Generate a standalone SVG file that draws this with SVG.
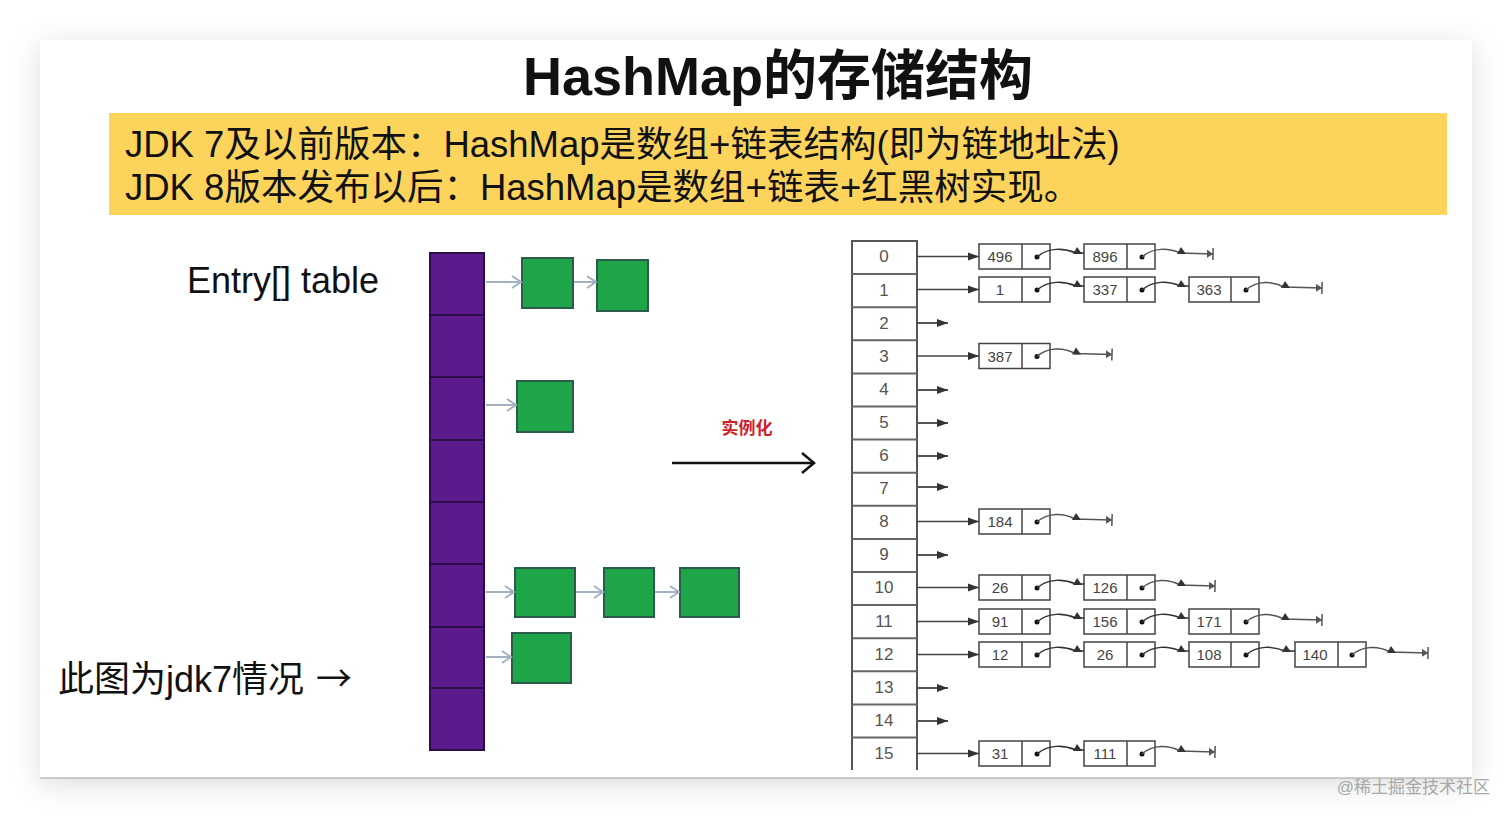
<svg xmlns="http://www.w3.org/2000/svg" width="1512" height="819" viewBox="0 0 1512 819">
<defs>
<filter id="sh" x="-10%" y="-10%" width="120%" height="125%">
<feDropShadow dx="0" dy="6" stdDeviation="14" flood-color="#000" flood-opacity="0.14"/>
</filter>
<marker id="chev" markerWidth="14" markerHeight="14" refX="12" refY="7" orient="auto" markerUnits="userSpaceOnUse">
<path d="M3,1 L12,7 L3,13" fill="none" stroke="#a3b2c0" stroke-width="2"/>
</marker>
<marker id="bigchev" markerWidth="20" markerHeight="24" refX="18" refY="12" orient="auto" markerUnits="userSpaceOnUse">
<path d="M6,2 L18,12 L6,22" fill="none" stroke="#111" stroke-width="2.5"/>
</marker>
<marker id="tri" markerWidth="12" markerHeight="10" refX="11" refY="5" orient="auto" markerUnits="userSpaceOnUse">
<path d="M0,1 L11,5 L0,9 Z" fill="#333"/>
</marker>
<marker id="endbar" markerWidth="8" markerHeight="16" refX="6" refY="8" orient="auto" markerUnits="userSpaceOnUse">
<path d="M0,4 L6,8 L0,12 Z" fill="#555"/>
<line x1="6" y1="2" x2="6" y2="14" stroke="#555" stroke-width="1.5"/>
</marker>
</defs>
<style>
.cjk{font-family:"Liberation Sans","Noto Sans CJK SC",sans-serif;}
.purp{fill:#5b1b8c;stroke:#2e0c4c;stroke-width:2;}
.grn{fill:#1ea548;stroke:#2b5c4b;stroke-width:2;}
.garr{stroke:#a3b2c0;stroke-width:2;fill:none;marker-end:url(#chev);}
.tbl{stroke:#555;stroke-width:2;fill:#fff;}
.sep{stroke:#666;stroke-width:2;}
.idx{font-family:"Liberation Sans",sans-serif;font-size:17px;fill:#555;text-anchor:middle;}
.nbox{fill:#fff;stroke:#444;stroke-width:1.5;}
.nval{font-family:"Liberation Sans",sans-serif;font-size:15px;fill:#444;text-anchor:middle;}
.dot{fill:#111;}
.lnk{stroke:#333;stroke-width:1.5;fill:none;}
.tip{fill:#333;}
.first{stroke:#444;stroke-width:1.5;fill:none;marker-end:url(#tri);}
.end{stroke:#555;stroke-width:1.5;fill:none;marker-end:url(#endbar);}
.emp{stroke:#555;stroke-width:2;fill:none;marker-end:url(#tri);}
</style>
<rect width="1512" height="819" fill="#ffffff"/>
<rect x="40" y="40" width="1432" height="738" fill="#fff" filter="url(#sh)"/>
<line x1="40" y1="778" x2="1472" y2="778" stroke="#bbb" stroke-width="1.5"/>

<g id="title">
<text x="778" y="95" class="cjk" font-size="54" font-weight="bold" text-anchor="middle" fill="#111">HashMap的存储结构</text>
</g>

<g id="banner">
<rect x="109" y="113" width="1338" height="102" fill="#fcd45c"/>
<text x="125" y="157" class="cjk" font-size="36.5" fill="#111">JDK 7及以前版本：HashMap是数组+链表结构(即为链地址法)</text>
<text x="125" y="200" class="cjk" font-size="36.5" fill="#111">JDK 8版本发布以后：HashMap是数组+链表+红黑树实现。</text>
</g>

<g id="entry-label">
<text x="187" y="293" class="cjk" font-size="36" fill="#111">Entry[] table</text>
</g>
<g id="jdk7-label">
<text x="58" y="692" class="cjk" font-size="36" fill="#111">此图为jdk7情况 <tspan font-family="'Noto Sans CJK SC',sans-serif" x="316">→</tspan></text>
</g>

<g id="entry-table">
<rect x="430" y="253" width="54" height="497" class="purp"/>
<line x1="430" y1="315" x2="484" y2="315" stroke="#2e0c4c" stroke-width="2"/>
<line x1="430" y1="377" x2="484" y2="377" stroke="#2e0c4c" stroke-width="2"/>
<line x1="430" y1="440" x2="484" y2="440" stroke="#2e0c4c" stroke-width="2"/>
<line x1="430" y1="502" x2="484" y2="502" stroke="#2e0c4c" stroke-width="2"/>
<line x1="430" y1="564" x2="484" y2="564" stroke="#2e0c4c" stroke-width="2"/>
<line x1="430" y1="627" x2="484" y2="627" stroke="#2e0c4c" stroke-width="2"/>
<line x1="430" y1="688" x2="484" y2="688" stroke="#2e0c4c" stroke-width="2"/>
</g>

<g id="green-nodes">
<rect x="522" y="258" width="51" height="50" class="grn"/>
<rect x="597" y="260" width="51" height="51" class="grn"/>
<rect x="517" y="381" width="56" height="51" class="grn"/>
<rect x="515" y="568" width="60" height="49" class="grn"/>
<rect x="604" y="568" width="50" height="49" class="grn"/>
<rect x="680" y="568" width="59" height="49" class="grn"/>
<rect x="512" y="633" width="59" height="50" class="grn"/>
</g>

<g id="left-connectors">
<line x1="486" y1="282" x2="521" y2="282" class="garr"/>
<line x1="574" y1="282" x2="596" y2="282" class="garr"/>
<line x1="486" y1="405" x2="516" y2="405" class="garr"/>
<line x1="486" y1="592" x2="514" y2="592" class="garr"/>
<line x1="576" y1="592" x2="603" y2="592" class="garr"/>
<line x1="655" y1="592" x2="679" y2="592" class="garr"/>
<line x1="486" y1="657" x2="511" y2="657" class="garr"/>
</g>

<g id="instantiate">
<text x="747" y="434" class="cjk" font-size="17" font-weight="bold" fill="#d0202a" text-anchor="middle">实例化</text>
<line x1="672" y1="463" x2="814" y2="463" stroke="#111" stroke-width="2.5" marker-end="url(#bigchev)"/>
</g>

<g id="bucket-table">
<path d="M852,770 L852,241 L917,241 L917,770" class="tbl"/>
<line x1="852" y1="274.1" x2="917" y2="274.1" class="sep"/>
<line x1="852" y1="307.2" x2="917" y2="307.2" class="sep"/>
<line x1="852" y1="340.3" x2="917" y2="340.3" class="sep"/>
<line x1="852" y1="373.4" x2="917" y2="373.4" class="sep"/>
<line x1="852" y1="406.5" x2="917" y2="406.5" class="sep"/>
<line x1="852" y1="439.6" x2="917" y2="439.6" class="sep"/>
<line x1="852" y1="472.7" x2="917" y2="472.7" class="sep"/>
<line x1="852" y1="505.8" x2="917" y2="505.8" class="sep"/>
<line x1="852" y1="538.9" x2="917" y2="538.9" class="sep"/>
<line x1="852" y1="572" x2="917" y2="572" class="sep"/>
<line x1="852" y1="605.1" x2="917" y2="605.1" class="sep"/>
<line x1="852" y1="638.2" x2="917" y2="638.2" class="sep"/>
<line x1="852" y1="671.3" x2="917" y2="671.3" class="sep"/>
<line x1="852" y1="704.4" x2="917" y2="704.4" class="sep"/>
<line x1="852" y1="737.5" x2="917" y2="737.5" class="sep"/>
<text x="884" y="262" class="idx">0</text>
<text x="884" y="296" class="idx">1</text>
<text x="884" y="329" class="idx">2</text>
<text x="884" y="362" class="idx">3</text>
<text x="884" y="395" class="idx">4</text>
<text x="884" y="428" class="idx">5</text>
<text x="884" y="461" class="idx">6</text>
<text x="884" y="494" class="idx">7</text>
<text x="884" y="527" class="idx">8</text>
<text x="884" y="560" class="idx">9</text>
<text x="884" y="593" class="idx">10</text>
<text x="884" y="627" class="idx">11</text>
<text x="884" y="660" class="idx">12</text>
<text x="884" y="693" class="idx">13</text>
<text x="884" y="726" class="idx">14</text>
<text x="884" y="759" class="idx">15</text>
</g>

<g id="list-nodes">
<rect x="979" y="244" width="71" height="25" class="nbox"/><line x1="1022" y1="244" x2="1022" y2="269" stroke="#444" stroke-width="1.5"/><text x="1000" y="262" class="nval">496</text><circle cx="1037" cy="257" r="2.5" class="dot"/>
<rect x="1084" y="244" width="71" height="25" class="nbox"/><line x1="1127" y1="244" x2="1127" y2="269" stroke="#444" stroke-width="1.5"/><text x="1105" y="262" class="nval">896</text><circle cx="1142" cy="257" r="2.5" class="dot"/>
<rect x="979" y="277" width="71" height="25" class="nbox"/><line x1="1022" y1="277" x2="1022" y2="302" stroke="#444" stroke-width="1.5"/><text x="1000" y="295" class="nval">1</text><circle cx="1037" cy="290" r="2.5" class="dot"/>
<rect x="1084" y="277" width="71" height="25" class="nbox"/><line x1="1127" y1="277" x2="1127" y2="302" stroke="#444" stroke-width="1.5"/><text x="1105" y="295" class="nval">337</text><circle cx="1142" cy="290" r="2.5" class="dot"/>
<rect x="1189" y="277" width="70" height="25" class="nbox"/><line x1="1231" y1="277" x2="1231" y2="302" stroke="#444" stroke-width="1.5"/><text x="1209" y="295" class="nval">363</text><circle cx="1246" cy="290" r="2.5" class="dot"/>
<rect x="979" y="343.5" width="71" height="25" class="nbox"/><line x1="1022" y1="343.5" x2="1022" y2="368.5" stroke="#444" stroke-width="1.5"/><text x="1000" y="361.5" class="nval">387</text><circle cx="1037" cy="356.5" r="2.5" class="dot"/>
<rect x="979" y="509" width="71" height="25" class="nbox"/><line x1="1022" y1="509" x2="1022" y2="534" stroke="#444" stroke-width="1.5"/><text x="1000" y="527" class="nval">184</text><circle cx="1037" cy="522" r="2.5" class="dot"/>
<rect x="979" y="575" width="71" height="25" class="nbox"/><line x1="1022" y1="575" x2="1022" y2="600" stroke="#444" stroke-width="1.5"/><text x="1000" y="593" class="nval">26</text><circle cx="1037" cy="588" r="2.5" class="dot"/>
<rect x="1084" y="575" width="71" height="25" class="nbox"/><line x1="1127" y1="575" x2="1127" y2="600" stroke="#444" stroke-width="1.5"/><text x="1105" y="593" class="nval">126</text><circle cx="1142" cy="588" r="2.5" class="dot"/>
<rect x="979" y="609" width="71" height="25" class="nbox"/><line x1="1022" y1="609" x2="1022" y2="634" stroke="#444" stroke-width="1.5"/><text x="1000" y="627" class="nval">91</text><circle cx="1037" cy="622" r="2.5" class="dot"/>
<rect x="1084" y="609" width="71" height="25" class="nbox"/><line x1="1127" y1="609" x2="1127" y2="634" stroke="#444" stroke-width="1.5"/><text x="1105" y="627" class="nval">156</text><circle cx="1142" cy="622" r="2.5" class="dot"/>
<rect x="1189" y="609" width="70" height="25" class="nbox"/><line x1="1231" y1="609" x2="1231" y2="634" stroke="#444" stroke-width="1.5"/><text x="1209" y="627" class="nval">171</text><circle cx="1246" cy="622" r="2.5" class="dot"/>
<rect x="979" y="642" width="71" height="25" class="nbox"/><line x1="1022" y1="642" x2="1022" y2="667" stroke="#444" stroke-width="1.5"/><text x="1000" y="660" class="nval">12</text><circle cx="1037" cy="655" r="2.5" class="dot"/>
<rect x="1084" y="642" width="71" height="25" class="nbox"/><line x1="1127" y1="642" x2="1127" y2="667" stroke="#444" stroke-width="1.5"/><text x="1105" y="660" class="nval">26</text><circle cx="1142" cy="655" r="2.5" class="dot"/>
<rect x="1189" y="642" width="70" height="25" class="nbox"/><line x1="1231" y1="642" x2="1231" y2="667" stroke="#444" stroke-width="1.5"/><text x="1209" y="660" class="nval">108</text><circle cx="1246" cy="655" r="2.5" class="dot"/>
<rect x="1295" y="642" width="71" height="25" class="nbox"/><line x1="1338" y1="642" x2="1338" y2="667" stroke="#444" stroke-width="1.5"/><text x="1315" y="660" class="nval">140</text><circle cx="1352" cy="655" r="2.5" class="dot"/>
<rect x="979" y="741" width="71" height="25" class="nbox"/><line x1="1022" y1="741" x2="1022" y2="766" stroke="#444" stroke-width="1.5"/><text x="1000" y="759" class="nval">31</text><circle cx="1037" cy="754" r="2.5" class="dot"/>
<rect x="1084" y="741" width="71" height="25" class="nbox"/><line x1="1127" y1="741" x2="1127" y2="766" stroke="#444" stroke-width="1.5"/><text x="1105" y="759" class="nval">111</text><circle cx="1142" cy="754" r="2.5" class="dot"/>
</g>

<g id="connectors">
<line x1="917" y1="256.5" x2="979" y2="256.5" class="first"/>
<line x1="917" y1="289.5" x2="979" y2="289.5" class="first"/>
<line x1="917" y1="356" x2="979" y2="356" class="first"/>
<line x1="917" y1="521.5" x2="979" y2="521.5" class="first"/>
<line x1="917" y1="587.5" x2="979" y2="587.5" class="first"/>
<line x1="917" y1="621.5" x2="979" y2="621.5" class="first"/>
<line x1="917" y1="654.5" x2="979" y2="654.5" class="first"/>
<line x1="917" y1="753.5" x2="979" y2="753.5" class="first"/>
<line x1="917" y1="323" x2="948" y2="323" class="emp"/>
<line x1="917" y1="390" x2="948" y2="390" class="emp"/>
<line x1="917" y1="423" x2="948" y2="423" class="emp"/>
<line x1="917" y1="456" x2="948" y2="456" class="emp"/>
<line x1="917" y1="487" x2="948" y2="487" class="emp"/>
<line x1="917" y1="555" x2="948" y2="555" class="emp"/>
<line x1="917" y1="688" x2="948" y2="688" class="emp"/>
<line x1="917" y1="721" x2="948" y2="721" class="emp"/>
<g id="links">
<path d="M1037,257 C1048,247 1064,248 1076,253 L1084,253" class="lnk"/><path d="M1073,254 L1082,254 L1077,247 Z" class="tip"/>
<path d="M1142,257 C1153,247 1169,248 1180,253 L1213,254" class="end"/><path d="M1177,254 L1186,254 L1181,247 Z" class="tip"/>
<path d="M1037,290 C1048,280 1064,281 1076,286 L1084,286" class="lnk"/><path d="M1073,287 L1082,287 L1077,280 Z" class="tip"/>
<path d="M1142,290 C1153,280 1169,281 1180,286 L1189,286" class="lnk"/><path d="M1177,287 L1186,287 L1181,280 Z" class="tip"/>
<path d="M1246,290 C1257,280 1273,281 1284,287 L1322,288" class="end"/><path d="M1281,288 L1290,288 L1285,281 Z" class="tip"/>
<path d="M1037,356.5 C1048,346.5 1064,347.5 1075,353.5 L1112,354.5" class="end"/><path d="M1072,354.5 L1081,354.5 L1076,347.5 Z" class="tip"/>
<path d="M1037,522 C1048,512 1064,513 1075,519 L1112,520" class="end"/><path d="M1072,520 L1081,520 L1076,513 Z" class="tip"/>
<path d="M1037,588 C1048,578 1064,579 1076,584 L1084,584" class="lnk"/><path d="M1073,585 L1082,585 L1077,578 Z" class="tip"/>
<path d="M1142,588 C1153,578 1169,579 1180,585 L1215,586" class="end"/><path d="M1177,586 L1186,586 L1181,579 Z" class="tip"/>
<path d="M1037,622 C1048,612 1064,613 1076,618 L1084,618" class="lnk"/><path d="M1073,619 L1082,619 L1077,612 Z" class="tip"/>
<path d="M1142,622 C1153,612 1169,613 1180,618 L1189,618" class="lnk"/><path d="M1177,619 L1186,619 L1181,612 Z" class="tip"/>
<path d="M1246,622 C1257,612 1273,613 1284,619 L1322,620" class="end"/><path d="M1281,620 L1290,620 L1285,613 Z" class="tip"/>
<path d="M1037,655 C1048,645 1064,646 1076,651 L1084,651" class="lnk"/><path d="M1073,652 L1082,652 L1077,645 Z" class="tip"/>
<path d="M1142,655 C1153,645 1169,646 1180,651 L1189,651" class="lnk"/><path d="M1177,652 L1186,652 L1181,645 Z" class="tip"/>
<path d="M1246,655 C1257,645 1273,646 1285,651 L1295,651" class="lnk"/><path d="M1282,652 L1291,652 L1286,645 Z" class="tip"/>
<path d="M1352,655 C1363,645 1379,646 1390,652 L1428,653" class="end"/><path d="M1387,653 L1396,653 L1391,646 Z" class="tip"/>
<path d="M1037,754 C1048,744 1064,745 1076,750 L1084,750" class="lnk"/><path d="M1073,751 L1082,751 L1077,744 Z" class="tip"/>
<path d="M1142,754 C1153,744 1169,745 1180,751 L1215,752" class="end"/><path d="M1177,752 L1186,752 L1181,745 Z" class="tip"/>
</g>
</g>

<g id="watermark">
<text x="1490" y="793" class="cjk" font-size="17" fill="#a8a8a8" text-anchor="end">@稀土掘金技术社区</text>
</g>
</svg>
